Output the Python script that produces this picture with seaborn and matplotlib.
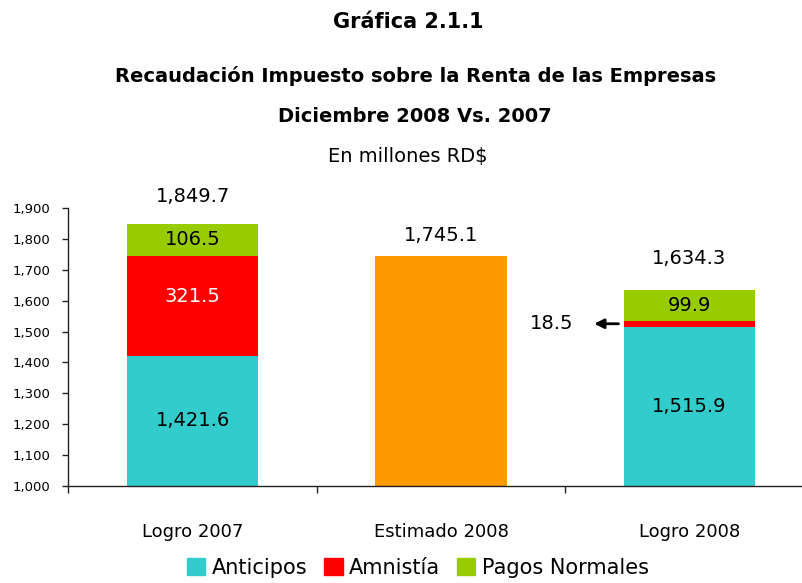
import numpy as np
import pandas as pd
import seaborn as sns
import matplotlib.pyplot as plt
from matplotlib.patches import Patch

categories = ["Logro 2007", "Estimado 2008", "Logro 2008"]
anticipos = [1421.6, 0.0, 1515.9]
amnistia = [321.5, 0.0, 18.5]
pagos = [106.5, 0.0, 99.9]
estimado = [0.0, 1745.1, 0.0]
totals = [1849.7, 1745.1, 1634.3]
y_ticks = list(range(1000, 1901, 100))

sns.set_theme(style="white")
plt.rcParams["font.family"] = ["DejaVu Sans"]
plt.rcParams["text.color"] = "black"
plt.rcParams["xtick.color"] = "black"
plt.rcParams["ytick.color"] = "black"

df = pd.DataFrame({
    "cat": categories,
    "anticipos": anticipos,
    "amnistia": amnistia,
    "pagos": pagos,
    "estimado": estimado,
})
df["lvl2"] = df["anticipos"] + df["amnistia"]
df["lvl3"] = df["lvl2"] + df["pagos"]

c_ant, c_amn, c_pag, c_est = "#33CCCC", "#FF0000", "#99CC00", "#FF9900"

fig = plt.figure(figsize=(8.03, 5.83), dpi=100)
ax = fig.add_axes([0.0853, 0.1664, 0.9147, 0.4769])

w = 0.528
for col, c in [("lvl3", c_pag), ("lvl2", c_amn), ("anticipos", c_ant), ("estimado", c_est)]:
    sns.barplot(data=df, x="cat", y=col, color=c, width=w, saturation=1, linewidth=0,
                ax=ax, order=categories)

ax.set_ylim(1000, 1900)
ax.set_xlim(-0.5, 2.458)
ax.set_yticks(y_ticks)
ax.set_yticklabels([f"{v:,}" for v in y_ticks], fontsize=9.5)
ax.set_xticks(range(3))
ax.set_xticklabels(categories, fontsize=13)
ax.set_xticks([-0.5, 0.5, 1.5], minor=True)
ax.tick_params(axis="x", which="major", length=0, pad=27)
ax.tick_params(axis="x", which="minor", length=5, width=1, color="#222222", direction="out", bottom=True)
ax.tick_params(axis="y", length=4, width=1, color="#222222", direction="out", left=True, pad=9)
ax.set_xlabel("")
ax.set_ylabel("")
for s in ["top", "right"]:
    ax.spines[s].set_visible(False)
for s in ["left", "bottom"]:
    ax.spines[s].set_color("#222222")
    ax.spines[s].set_linewidth(1)

# totals above bars
top_off = [27, 20, 32]
for i, t in enumerate(totals):
    ax.annotate(f"{t:,.1f}", (i, t), xytext=(0, top_off[i]), textcoords="offset pixels",
                ha="center", va="center", fontsize=14, color="black", annotation_clip=False)

# segment labels
def mid(lo, hi):
    return (max(lo, 1000) + hi) / 2

for i in [0, 2]:
    ax.text(i, mid(0, anticipos[i]), f"{anticipos[i]:,.1f}", ha="center", va="center", fontsize=14, color="black")
    ax.text(i, mid(df["lvl2"][i], df["lvl3"][i]), f"{pagos[i]:,.1f}", ha="center", va="center", fontsize=14, color="black")
ax.text(0, mid(anticipos[0], df["lvl2"][0]) + 30, f"{amnistia[0]:,.1f}", ha="center", va="center", fontsize=14, color="white")

# small amnistia segment label with arrow
ym = mid(anticipos[2], df["lvl2"][2])
ax.annotate("", xy=(2 - w / 2 - 0.13, ym), xytext=(2 - w / 2 - 0.01, ym),
            arrowprops=dict(arrowstyle="-|>", color="black", lw=2, mutation_scale=14))
ax.text(2 - w / 2 - 0.29, ym, f"{amnistia[2]:,.1f}", ha="center", va="center", fontsize=14, color="black")

fig.text(0.508, 1 - 22 / 583, "Gráfica 2.1.1", ha="center", va="center", fontsize=15, fontweight="bold")
fig.text(0.517, 1 - 76 / 583, "Recaudación Impuesto sobre la Renta de las Empresas", ha="center", va="center",
         fontsize=14, fontweight="bold")
fig.text(0.517, 1 - 116 / 583, "Diciembre 2008 Vs. 2007", ha="center", va="center", fontsize=14, fontweight="bold")
fig.text(0.508, 1 - 157 / 583, "En millones RD$", ha="center", va="center", fontsize=14)

handles = [Patch(color=c_ant, label="Anticipos"), Patch(color=c_amn, label="Amnistía"),
           Patch(color=c_pag, label="Pagos Normales")]
fig.legend(handles=handles, loc="center", bbox_to_anchor=(0.52, 1 - 568 / 583), ncol=3, frameon=False,
           fontsize=15, handlelength=0.9, handleheight=0.9, handletextpad=0.3, columnspacing=0.8)

fig.savefig("out.png", dpi=100)
